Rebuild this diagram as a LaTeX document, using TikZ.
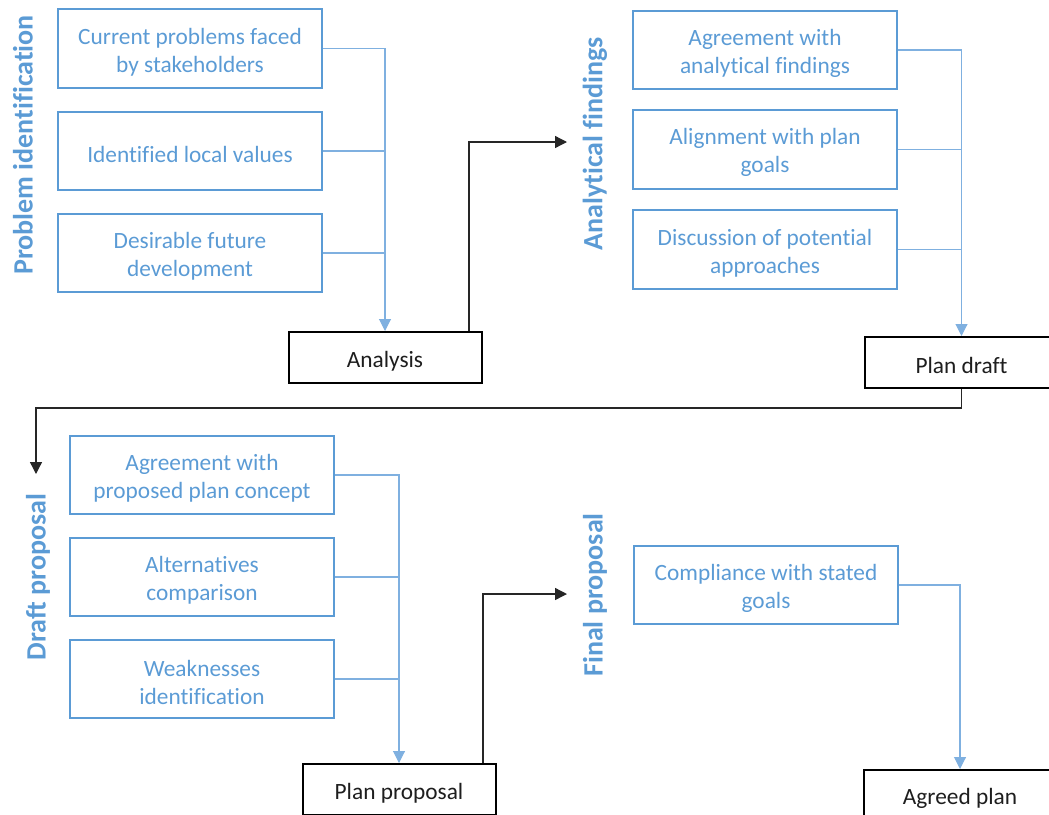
\documentclass[tikz,border=0pt]{standalone}
\usepackage{fontspec}
\setmainfont{Carlito}[Ligatures=NoCommon]
\usetikzlibrary{arrows.meta}
\definecolor{officeblue}{HTML}{5B9BD5}
\definecolor{linkblue}{HTML}{7FB0E0}
\definecolor{darktext}{HTML}{1E1E1E}
\tikzset{
  boxtext/.style={align=center, font=\fontsize{17.5}{21}\selectfont, inner sep=0pt, yshift=-2.5pt},
  itembox/.style={draw=officeblue, line width=1.5pt, minimum width=198pt, minimum height=59pt,
    inner sep=0pt, label={[boxtext, text=officeblue]center:{#1}}},
  stagebox/.style={draw=black, line width=1.5pt, fill=white, minimum width=144.75pt, minimum height=38.25pt,
    inner sep=0pt, label={[boxtext, text=darktext]center:{#1}}},
  phaselabel/.style={rotate=90, text=officeblue, font=\bfseries\fontsize{21}{25}\selectfont, inner sep=0pt},
  feed/.style={draw=linkblue, line width=0.8pt},
  feedarrow/.style={feed, -{Triangle[width=9pt,length=9pt]}},
  flow/.style={draw=black!85, line width=1pt, -{Triangle[width=9pt,length=9pt]}}
}
\begin{document}
\begin{tikzpicture}[x=0.75pt, y=-0.75pt]
\useasboundingbox (0,0) rectangle (1049,814);

% ---- Problem identification ----
\node[phaselabel] (lp) at (23,145) {Problem identification};
\node[itembox={Current problems faced\\by stakeholders}] (a1) at (190,48.5) {};
\node[itembox={Identified local values}] (a2) at (190,151) {};
\node[itembox={Desirable future\\development}] (a3) at (190,253) {};
\node[stagebox={Analysis}] (an) at (385,357.5) {};
\draw[feedarrow] (a1.east) -| (an.north);
\draw[feed] (a2.east) -- (a2.east -| an.north);
\draw[feed] (a3.east) -- (a3.east -| an.north);

% ---- Analytical findings ----
\node[phaselabel] (lf) at (595,144) {Analytical findings};
\coordinate (tf) at (567,142);
\draw[flow] (an.north -| 469,0) |- (tf);
\node[itembox={Agreement with\\analytical findings}] (b1) at (765,50) {};
\node[itembox={Alignment with plan\\goals}] (b2) at (765,149.5) {};
\node[itembox={Discussion of potential\\approaches}] (b3) at (765,249.5) {};
\node[stagebox={Plan draft}] (pd) at (961.5,362.5) {};
\draw[feedarrow] (b1.east) -| (pd.north);
\draw[feed] (b2.east) -- (b2.east -| pd.north);
\draw[feed] (b3.east) -- (b3.east -| pd.north);

% ---- Draft proposal ----
\node[phaselabel] (ld) at (38,577) {Draft proposal};
\coordinate (td) at (36,474);
\draw[flow] (pd.south) -- ++(0,19) -| (td);
\node[itembox={Agreement with\\proposed plan concept}] (c1) at (202,475) {};
\node[itembox={Alternatives\\comparison}] (c2) at (202,577) {};
\node[itembox={Weaknesses\\identification}] (c3) at (202,679) {};
\node[stagebox={Plan proposal}] (pp) at (399,789.5) {};
\draw[feedarrow] (c1.east) -| (pp.north);
\draw[feed] (c2.east) -- (c2.east -| pp.north);
\draw[feed] (c3.east) -- (c3.east -| pp.north);

% ---- Final proposal ----
\node[phaselabel] (lq) at (595,595) {Final proposal};
\coordinate (tq) at (567,594);
\draw[flow] (pp.north -| 483,0) |- (tq);
\node[itembox={Compliance with stated\\goals}] (d1) at (766,585) {};
\node[stagebox={Agreed plan}] (ag) at (960,795.5) {};
\draw[feedarrow] (d1.east) -| (ag.north);
\end{tikzpicture}
\end{document}
